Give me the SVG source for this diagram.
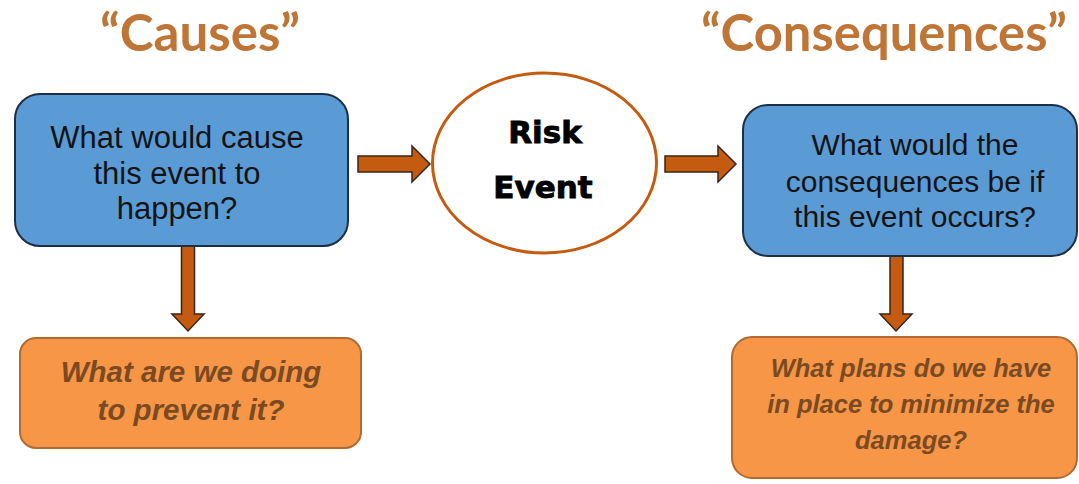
<svg xmlns="http://www.w3.org/2000/svg" width="1079" height="484" viewBox="0 0 1079 484">
  <style>
    .title { font-family: Lato, "Open Sans", sans-serif; font-weight: 700; font-size: 51px; fill: #BF7536; }
    .q { fill: #5B9BD5; stroke: #1E2F45; stroke-width: 2; }
    .a { fill: #F79646; stroke: #B06A32; stroke-width: 2; }
    .qt { font-family: "Liberation Sans", Arial, sans-serif; fill: #141414; text-anchor: middle; }
    .at { font-family: "Liberation Sans", Arial, sans-serif; font-weight: 700; font-style: italic; fill: #7A4A22; text-anchor: middle; }
    .ev { font-family: "DejaVu Sans", Verdana, sans-serif; font-weight: 700; font-size: 31px; fill: #000000; stroke: #000000; stroke-width: 0.9; text-anchor: middle; }
    .arrow { fill: #C55A11; stroke: #3A2616; stroke-width: 1.5; stroke-linejoin: miter; }
  </style>

  <rect width="1079" height="484" fill="#ffffff"/>

  <!-- headings -->
  <text class="title" x="100" y="51" textLength="200" lengthAdjust="spacingAndGlyphs">“Causes”</text>
  <text class="title" x="701" y="51" textLength="366" lengthAdjust="spacingAndGlyphs">“Consequences”</text>

  <!-- block arrows -->
  <g id="connectors">
    <path class="arrow" d="M358,156 H412 V146 L430,164 L412,182 V172 H358 Z"/>
    <path class="arrow" d="M665,156 H718 V146 L736,164 L718,182 V172 H665 Z"/>
    <path class="arrow" d="M181.5,246 H194.5 V314 H204 L188,331 L172,314 H181.5 Z"/>
    <path class="arrow" d="M890,256 H903 V314 H912 L896,331 L880,314 H890 Z"/>
  </g>

  <!-- cause question -->
  <g id="cause">
    <rect class="q" x="15" y="94" width="333" height="152" rx="25" ry="25"/>
    <text class="qt" font-size="31" x="177" y="148">What would cause</text>
    <text class="qt" font-size="31" x="177" y="184">this event to</text>
    <text class="qt" font-size="31" x="177" y="219">happen?</text>
  </g>

  <!-- central event -->
  <g id="risk-event">
    <ellipse cx="544.5" cy="163" rx="112" ry="90" fill="#ffffff" stroke="#C55A11" stroke-width="3"/>
    <text class="ev" x="545" y="143">Risk</text>
    <text class="ev" x="543" y="198">Event</text>
  </g>

  <!-- consequence question -->
  <g id="consequence">
    <rect class="q" x="743" y="105" width="334" height="151" rx="25" ry="25"/>
    <text class="qt" font-size="30" x="915" y="155">What would the</text>
    <text class="qt" font-size="30" x="915" y="192">consequences be if</text>
    <text class="qt" font-size="30" x="915" y="227">this event occurs?</text>
  </g>

  <!-- prevention -->
  <g id="prevention">
    <rect class="a" x="20" y="338" width="341" height="110" rx="16" ry="16"/>
    <text class="at" font-size="29.5" x="191" y="382">What are we doing</text>
    <text class="at" font-size="29.5" x="191" y="420">to prevent it?</text>
  </g>

  <!-- mitigation -->
  <g id="mitigation">
    <rect class="a" x="732" y="337" width="345" height="141" rx="20" ry="20"/>
    <text class="at" font-size="25.5" x="911" y="377">What plans do we have</text>
    <text class="at" font-size="25.5" x="911" y="413">in place to minimize the</text>
    <text class="at" font-size="25.5" x="911" y="449">damage?</text>
  </g>
</svg>
